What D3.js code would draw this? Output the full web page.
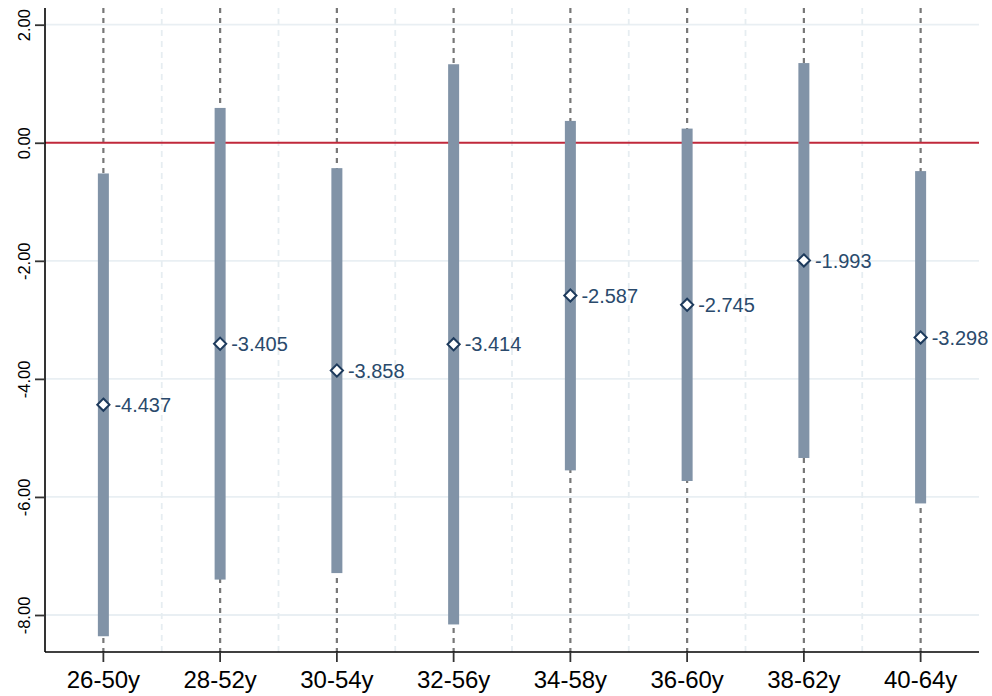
<!DOCTYPE html>
<html lang="en">
<head>
    <meta charset="UTF-8">
    <title>Coefficient plot</title>
    <script src="https://cdnjs.cloudflare.com/ajax/libs/d3/7.8.5/d3.min.js"></script>
    <style>
        body { margin: 0; background: #fff; font-family: "Liberation Sans", Arial, sans-serif; }
        svg { display: block; }
    </style>
</head>
<body>
<div id="chart"></div>
<script>
    // data
    const groups = ["26-50y", "28-52y", "30-54y", "32-56y", "34-58y", "36-60y", "38-62y", "40-64y"];
    const estimates = [-4.437, -3.405, -3.858, -3.414, -2.587, -2.745, -1.993, -3.298];
    const lower = [-8.36, -7.40, -7.29, -8.16, -5.55, -5.73, -5.34, -6.11];
    const upper = [-0.52, 0.59, -0.43, 1.33, 0.37, 0.24, 1.35, -0.48];
    const yTicks = [2, 0, -2, -4, -6, -8];

    const width = 992, height = 696;
    const plotLeft = 45, plotRight = 979, plotTop = 8, plotBottom = 652;

    const svg = d3.select("#chart").append("svg")
        .attr("width", width).attr("height", height);

    const x = d3.scaleBand().domain(groups).range([plotLeft, plotRight]).padding(0);
    const y = d3.scaleLinear().domain([2, -8]).range([24.7, 615]);
    const cx = d => x(d) + x.bandwidth() / 2;

    // light horizontal grid
    svg.append("g").selectAll("line")
        .data(yTicks.filter(d => d !== 0))
        .enter().append("line")
        .attr("x1", plotLeft).attr("x2", plotRight)
        .attr("y1", d => y(d)).attr("y2", d => y(d))
        .attr("stroke", "#e9eff3").attr("stroke-width", 1.8);

    // light dashed separators between groups
    svg.append("g").selectAll("line")
        .data(groups.slice(1))
        .enter().append("line")
        .attr("x1", d => x(d)).attr("x2", d => x(d))
        .attr("y1", plotTop).attr("y2", plotBottom)
        .attr("stroke", "#e6edf1").attr("stroke-width", 1.8)
        .attr("stroke-dasharray", "6,5");

    // dark dashed line at each group
    svg.append("g").selectAll("line")
        .data(groups)
        .enter().append("line")
        .attr("x1", cx).attr("x2", cx)
        .attr("y1", plotTop).attr("y2", plotBottom)
        .attr("stroke", "#777").attr("stroke-width", 2.2)
        .attr("stroke-dasharray", "5,5");

    // zero line
    svg.append("line")
        .attr("x1", plotLeft).attr("x2", plotRight)
        .attr("y1", y(0)).attr("y2", y(0))
        .attr("stroke", "#c0293b").attr("stroke-width", 2.2);

    // confidence bars
    const barW = 11;
    svg.append("g").selectAll("rect")
        .data(groups)
        .enter().append("rect")
        .attr("x", d => cx(d) - barW / 2)
        .attr("width", barW)
        .attr("y", (d, i) => y(upper[i]))
        .attr("height", (d, i) => y(lower[i]) - y(upper[i]))
        .attr("fill", "#8193a7");

    // point markers
    const diamond = d3.symbol().type(d3.symbolDiamond2).size(95);
    svg.append("g").selectAll("path")
        .data(groups)
        .enter().append("path")
        .attr("d", diamond)
        .attr("transform", (d, i) => `translate(${cx(d)},${y(estimates[i])})`)
        .attr("fill", "#fff")
        .attr("stroke", "#1d3a5c")
        .attr("stroke-width", 2);

    svg.append("g").selectAll("text")
        .data(groups)
        .enter().append("text")
        .attr("x", d => cx(d) + 11)
        .attr("y", (d, i) => y(estimates[i]))
        .attr("dy", "0.36em")
        .attr("font-size", 20)
        .attr("fill", "#2a4a6c")
        .text((d, i) => d3.format(".3f")(estimates[i]).replace("−", "-"));

    // y axis
    const yAxis = svg.append("g")
        .attr("transform", `translate(${plotLeft},0)`)
        .call(d3.axisLeft(y).tickValues(yTicks).tickSize(10).tickFormat(d3.format(".2f")));
    yAxis.select(".domain").attr("d", `M0,${plotTop}V${plotBottom}`).attr("stroke", "#000").attr("stroke-width", 1.6);
    yAxis.selectAll(".tick line").attr("stroke", "#333").attr("stroke-width", 1.8);
    yAxis.selectAll(".tick text")
        .text(d => d3.format(".2f")(d).replace("−", "-"))
        .attr("font-family", "Liberation Sans, Arial, sans-serif")
        .attr("font-size", 16.5)
        .attr("fill", "#000")
        .attr("transform", "translate(-21,0) rotate(-90)")
        .attr("x", 0).attr("dy", "0.36em")
        .attr("text-anchor", "middle");

    // x axis
    const xAxis = svg.append("g")
        .attr("transform", `translate(0,${plotBottom})`)
        .call(d3.axisBottom(x).tickSize(10).tickSizeOuter(0));
    xAxis.select(".domain").attr("d", `M${plotLeft},0H${plotRight}`).attr("stroke", "#000").attr("stroke-width", 1.6);
    xAxis.selectAll(".tick line").attr("stroke", "#333").attr("stroke-width", 1.8);
    xAxis.selectAll(".tick text")
        .attr("font-family", "Liberation Sans, Arial, sans-serif")
        .attr("font-size", 24)
        .attr("fill", "#000")
        .attr("y", 19);
</script>
</body>
</html>
